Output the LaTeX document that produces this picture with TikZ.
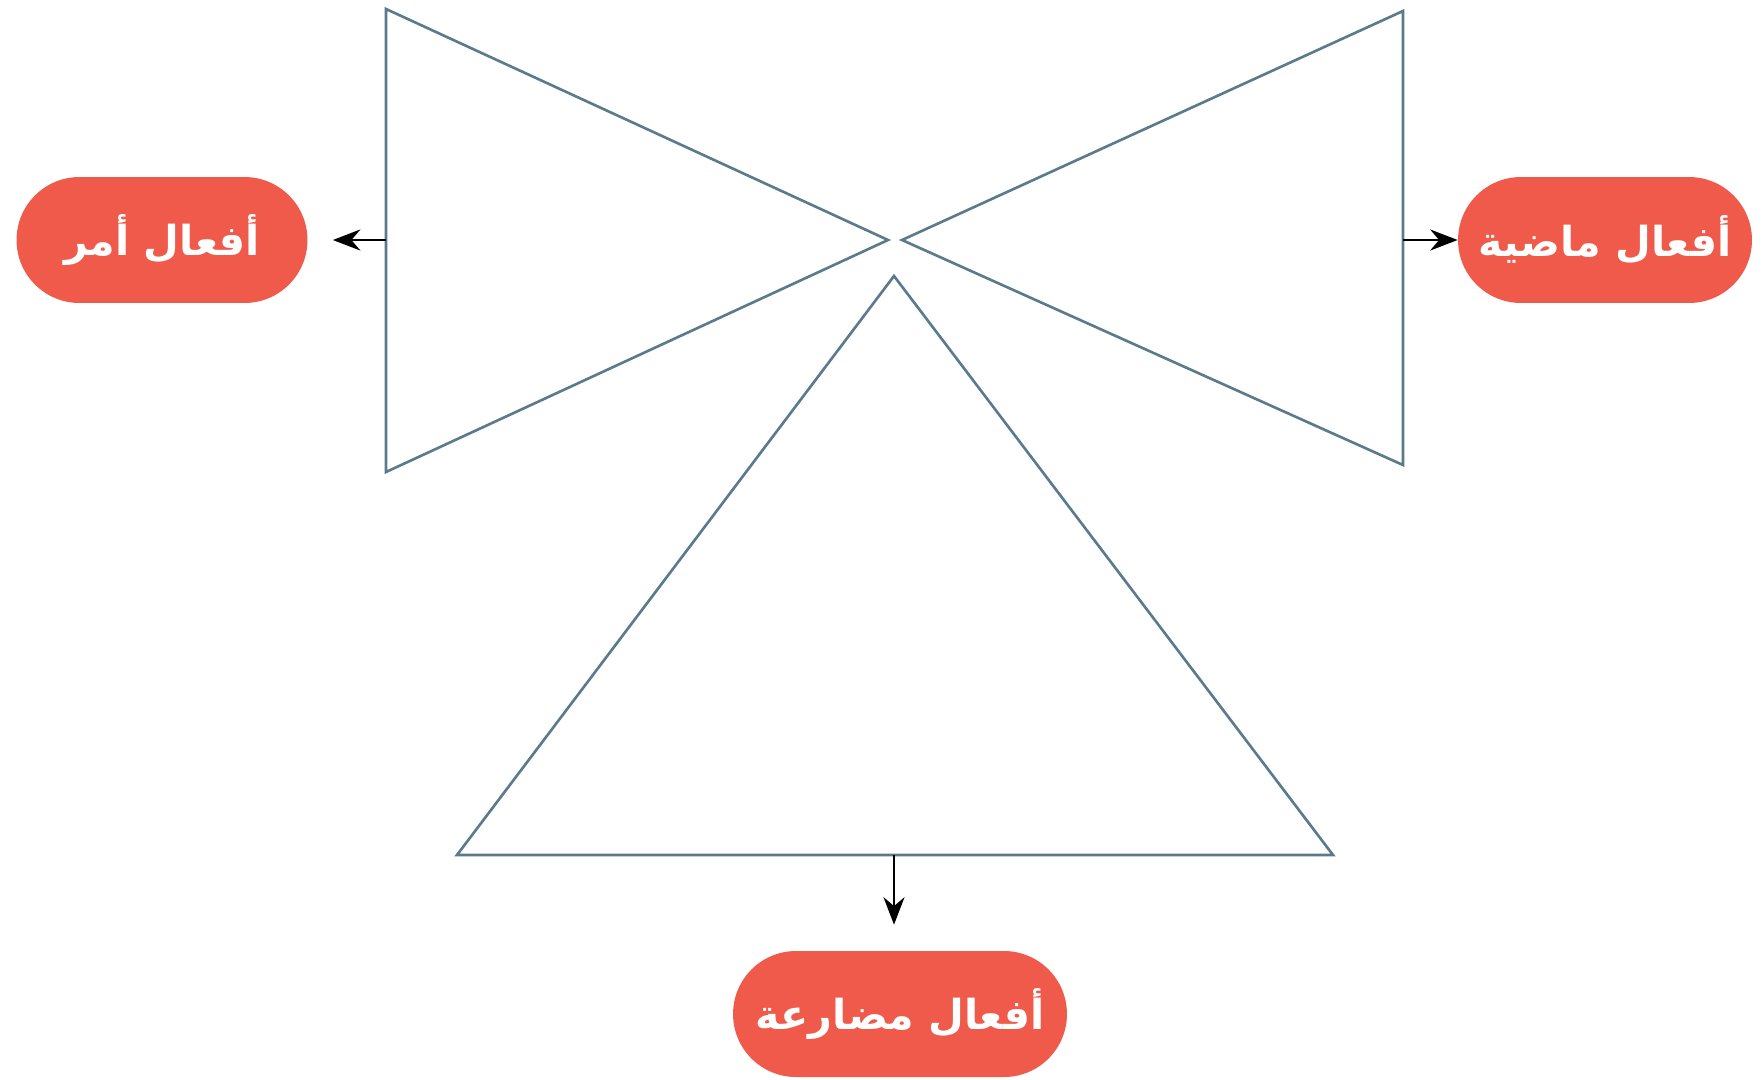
\documentclass[tikz,border=0pt]{standalone}
\usepackage{fontspec}
\newfontfamily\arabicfont[Script=Arabic]{DejaVu Sans}
\TeXXeTstate=1
\usetikzlibrary{arrows.meta}
\definecolor{pillred}{HTML}{EF5A4A}
\definecolor{edge}{HTML}{5B7B8C}
\tikzstyle{pill}=[fill=pillred, rounded corners=1.26cm, minimum height=2.52cm, text=white,
anchor=center, font=\arabicfont\bfseries\fontsize{23.5}{28}\selectfont]
\tikzstyle{tri}=[draw=edge, line width=1.5pt, line join=miter]
\tikzstyle{myarrow}=[-{Stealth[length=0.55cm, width=0.42cm]}, line width=1.5pt]

\begin{document}
\begin{tikzpicture}[x=0.02cm, y=-0.02cm]
    \useasboundingbox (0, 0) rectangle (1764, 1079) ;

    % triangles
    \coordinate (L1) at (386, 9) ;
    \coordinate (L2) at (386, 472) ;
    \coordinate (LA) at (888, 240) ;
    \coordinate (R1) at (1403, 11) ;
    \coordinate (R2) at (1403, 465) ;
    \coordinate (RA) at (902, 240) ;
    \coordinate (BA) at (894, 276) ;
    \coordinate (B1) at (457, 855) ;
    \coordinate (B2) at (1333, 855) ;
    \draw[tri] (L1) -- (LA) -- (L2) -- cycle ;
    \draw[tri] (R1) -- (RA) -- (R2) -- cycle ;
    \draw[tri] (BA) -- (B1) -- (B2) -- cycle ;

    \node[pill, minimum width=5.82cm] (amr) at (162, 240) {\beginR أفعال أمر\endR} ;
    \node[pill, minimum width=5.88cm] (madi) at (1605, 240) {\beginR أفعال ماضية\endR} ;
    \node[pill, minimum width=6.68cm] (mudari) at (900, 1014) {\beginR أفعال مضارعة\endR} ;

    \coordinate (La) at (386, 240) ;
    \coordinate (Ra) at (1403, 240) ;
    \coordinate (Ba) at (894, 855) ;
    \draw[myarrow, shorten >=0.5cm] (La) -- (amr) ;
    \draw[myarrow] (Ra) -- (madi) ;
    \draw[myarrow, shorten >=0.52cm] (Ba) -- (Ba |- mudari.north) ;
\end{tikzpicture}
\end{document}
